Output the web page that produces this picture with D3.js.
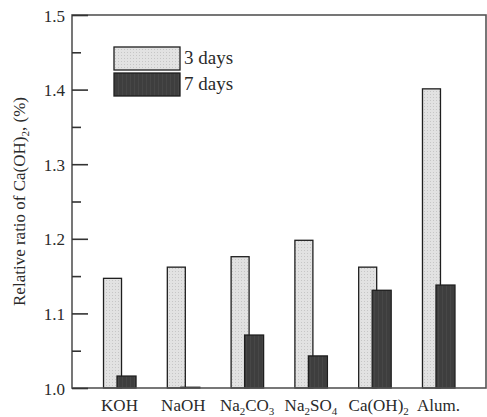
<!DOCTYPE html>
<html>
<head>
<meta charset="utf-8">
<script src="https://cdn.jsdelivr.net/npm/d3@7"></script>
<style>
  html, body { margin: 0; padding: 0; background: #fff; }
  svg { display: block; }
  svg text { font-family: "Liberation Serif", "DejaVu Serif", serif; }
</style>
</head>
<body>
<svg id="chart" width="487" height="417"></svg>
<script>
// Categories (activators) and relative Ca(OH)2 ratios per curing age
const categories = ["KOH", "NaOH", "Na2CO3", "Na2SO4", "Ca(OH)2", "Alum."];
const days3 = [1.147, 1.162, 1.176, 1.198, 1.162, 1.401];
const days7 = [1.016, 1.001, 1.071, 1.043, 1.131, 1.138];
const seriesNames = ["3 days", "7 days"];
const majorTicks = [1.0, 1.1, 1.2, 1.3, 1.4, 1.5];
const minorTicks = [1.05, 1.15, 1.25, 1.35, 1.45];

const svg = d3.select("#chart");
const frame = { left: 72, right: 486, top: 15, bottom: 388 };
const textColor = "#2a2a2a";

const y = d3.scaleLinear().domain([1.0, 1.5]).range([frame.bottom, frame.top]);
const x = d3.scalePoint().domain(categories)
  .range([frame.left, frame.right]).padding(0.745);

// Fill patterns: dotted light grey and finely striped dark grey
const defs = svg.append("defs");
const pLight = defs.append("pattern").attr("id", "pLight")
  .attr("patternUnits", "userSpaceOnUse").attr("width", 3).attr("height", 3);
pLight.append("rect").attr("width", 3).attr("height", 3).attr("fill", "#e2e2e2");
pLight.append("rect").attr("x", 1).attr("y", 1).attr("width", 1).attr("height", 1).attr("fill", "#c6c6c6");

const pDark = defs.append("pattern").attr("id", "pDark")
  .attr("patternUnits", "userSpaceOnUse").attr("width", 4).attr("height", 4);
pDark.append("rect").attr("width", 4).attr("height", 4).attr("fill", "#3e3e3e");
pDark.append("rect").attr("x", 2).attr("width", 1).attr("height", 4).attr("fill", "#474747");

// Bars: light (3 days) behind, dark (7 days) overlapping to its right
const wLight = 18, wDark = 19, offLight = -16, offDark = -2.5;
const barStroke = "#1e1e1e";

svg.append("g").selectAll("rect").data(categories).join("rect")
  .attr("x", d => x(d) + offLight)
  .attr("y", (d, i) => y(days3[i]))
  .attr("width", wLight)
  .attr("height", (d, i) => y(1.0) - y(days3[i]))
  .attr("fill", "url(#pLight)")
  .attr("stroke", barStroke).attr("stroke-width", 1.3);

svg.append("g").selectAll("rect").data(categories).join("rect")
  .attr("x", d => x(d) + offDark)
  .attr("y", (d, i) => y(days7[i]))
  .attr("width", wDark)
  .attr("height", (d, i) => y(1.0) - y(days7[i]))
  .attr("fill", "url(#pDark)")
  .attr("stroke", barStroke).attr("stroke-width", 1.3);

// Frame
svg.append("rect")
  .attr("x", frame.left).attr("y", frame.top)
  .attr("width", frame.right - frame.left).attr("height", frame.bottom - frame.top)
  .attr("fill", "none").attr("stroke", "#555").attr("stroke-width", 1.6);

// Left axis with inward ticks
const yAxis = d3.axisLeft(y).tickValues(majorTicks)
  .tickFormat(d3.format(".1f")).tickSize(-16).tickPadding(7);
const gy = svg.append("g").attr("transform", `translate(${frame.left},0)`).call(yAxis);
gy.attr("font-family", null).attr("font-size", null);
gy.select(".domain").remove();
gy.selectAll(".tick line").attr("stroke", "#333").attr("stroke-width", 1.6);
gy.selectAll(".tick text")
  .style("font-family", "'Liberation Serif', serif").style("font-size", "17px")
  .attr("fill", textColor).attr("dy", "0.36em");

const yMinor = d3.axisLeft(y).tickValues(minorTicks).tickFormat("").tickSize(-9);
const gm = svg.append("g").attr("transform", `translate(${frame.left},0)`).call(yMinor);
gm.select(".domain").remove();
gm.selectAll(".tick text").remove();
gm.selectAll(".tick line").attr("stroke", "#333").attr("stroke-width", 1.6);

// Writes a chemical formula into a text element, digits as subscripts
function formula(textSel, str, size, subSize) {
  const parts = str.match(/[^\d]+|\d+/g);
  let shifted = false;
  parts.forEach(p => {
    const span = textSel.append("tspan").text(p);
    if (/^\d+$/.test(p)) {
      span.style("font-size", subSize + "px").attr("dy", 4);
      shifted = true;
    } else {
      span.style("font-size", size + "px");
      if (shifted) { span.attr("dy", -4); shifted = false; }
    }
  });
}

// Category labels
const labelG = svg.append("g");
categories.forEach(c => {
  const t = labelG.append("text")
    .attr("x", x(c) + (c === "Ca(OH)2" ? 4 : 0))
    .attr("y", 411)
    .attr("text-anchor", "middle")
    .attr("fill", textColor);
  formula(t, c, 17, 11);
});

// Y axis title
const yt = svg.append("text")
  .attr("transform", `translate(25,${(frame.top + frame.bottom) / 2}) rotate(-90)`)
  .attr("text-anchor", "middle").attr("fill", textColor);
formula(yt, "Relative ratio of Ca(OH)2, (%)", 17, 11);

// Legend
const legend = svg.append("g");
const legendFills = ["url(#pLight)", "url(#pDark)"];
seriesNames.forEach((s, i) => {
  const gy0 = 47 + i * 26;
  legend.append("rect")
    .attr("x", 114).attr("y", gy0).attr("width", 66).attr("height", 23)
    .attr("fill", legendFills[i]).attr("stroke", barStroke).attr("stroke-width", 1.3);
  legend.append("text")
    .attr("x", 184).attr("y", gy0 + 17)
    .style("font-size", "19px").attr("fill", textColor).text(s);
});
</script>
</body>
</html>
